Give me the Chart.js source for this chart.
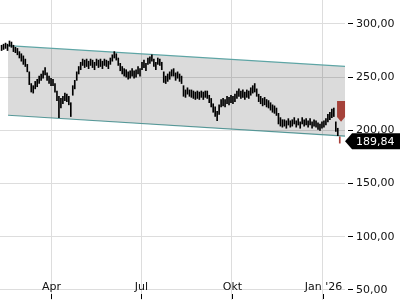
<!DOCTYPE html>
<html>
<head>
<meta charset="utf-8">
<script src="https://cdn.jsdelivr.net/npm/chart.js@4/dist/chart.umd.min.js"></script>
<style>
  html, body { margin: 0; padding: 0; background: #fff; }
</style>
</head>
<body>
<canvas id="kurs" width="400" height="300"></canvas>
<script>
// x values are days counted from 1 Jan 2025
const firstDay = 40;   // 10 Feb 2025
const dayStep = 2;

const highs = [
  280, 281, 282, 281, 284, 283, 280, 278, 277, 274,
  272, 270, 267, 262, 255, 244, 242, 246, 248, 251,
  253, 256, 259, 254, 251, 249, 248, 244, 237, 232,
  230, 232, 235, 234, 232, 226, 242, 247, 255, 260,
  264, 267, 266, 267, 265, 267, 266, 264, 267, 266,
  267, 265, 267, 266, 265, 268, 271, 274, 272, 268,
  263, 260, 258, 257, 255, 256, 258, 256, 257, 260,
  258, 264, 266, 263, 268, 269, 271, 267, 264, 268,
  267, 264, 255, 251, 253, 255, 257, 258, 254, 255,
  253, 251, 242, 238, 240, 238, 238, 237, 236, 237,
  236, 237, 236, 237, 237, 233, 230, 225, 222, 218,
  224, 229, 230, 229, 232, 231, 233, 232, 234, 237,
  239, 237, 238, 236, 238, 237, 240, 242, 244, 239,
  234, 232, 230, 231, 229, 228, 226, 224, 223, 221,
  216, 212, 210, 210, 209, 211, 209, 210, 212, 209,
  211, 208, 212, 210, 211, 209, 211, 208, 210, 209,
  207, 206, 208, 209, 211, 215, 217, 220, 221, 208,
  202, 194
];
const lows = [
  275, 276, 277, 275, 279, 278, 274, 273, 271, 268,
  265, 262, 260, 255, 243, 236, 235, 239, 241, 244,
  247, 249, 252, 247, 244, 242, 242, 236, 228, 212,
  221, 225, 228, 227, 224, 213, 233, 239, 247, 253,
  257, 261, 259, 260, 258, 261, 259, 257, 261, 259,
  260, 258, 261, 260, 258, 262, 265, 268, 266, 261,
  256, 253, 251, 250, 248, 249, 251, 249, 250, 253,
  251, 257, 259, 256, 262, 263, 265, 260, 257, 262,
  261, 257, 245, 244, 246, 248, 251, 251, 247, 249,
  246, 244, 232, 231, 234, 232, 231, 230, 229, 230,
  229, 231, 229, 231, 230, 226, 222, 217, 213, 209,
  215, 222, 223, 222, 225, 224, 226, 225, 227, 230,
  232, 230, 231, 229, 231, 230, 233, 235, 236, 232,
  227, 225, 223, 224, 222, 221, 219, 217, 216, 214,
  206, 204, 203, 204, 202, 205, 203, 204, 206, 203,
  205, 202, 206, 204, 205, 203, 205, 202, 204, 203,
  201, 200, 202, 203, 205, 208, 210, 212, 213, 199,
  195, 188
];

const monthDays = [90, 181, 273, 365];
const monthLabels = ['Apr', 'Jul', 'Okt', "Jan '26"];
const yTicks = [50, 100, 150, 200, 250, 300];

const channelDays = [46.5, 387.3];
const channelTop = [279.6, 260.2];
const channelBottom = [214.2, 194.5];

const arrowDay = 383.3;
const arrowPrices = [227.6, 212.6, 208];   // top, end of body, tip
const lastPrice = 189.84;

const fmt = v => v.toFixed(2).replace('.', ',');

const bars = highs.map((h, i) => ({ x: firstDay + i * dayStep, y: [lows[i], h] }));
const barColors = highs.map((h, i) => i === highs.length - 1 ? '#a8403a' : '#000');

Chart.defaults.font.family = '"DejaVu Sans", sans-serif';
Chart.defaults.font.size = 11;

const overlay = {
  id: 'overlay',
  afterDraw(chart) {
    const { ctx, chartArea, scales: { x, y } } = chart;
    ctx.save();
    ctx.font = '11px "DejaVu Sans"';
    ctx.textBaseline = 'middle';

    // month labels + small ticks
    ctx.textAlign = 'center';
    ctx.fillStyle = '#111';
    ctx.strokeStyle = '#000';
    ctx.lineWidth = 1;
    monthDays.forEach((d, i) => {
      const px = Math.round(x.getPixelForValue(d)) + 0.5;
      ctx.fillText(monthLabels[i], px, 287);
      ctx.beginPath();
      ctx.moveTo(px, 294);
      ctx.lineTo(px, 299);
      ctx.stroke();
    });

    // signal arrow
    const ax = x.getPixelForValue(arrowDay);
    const yTop = y.getPixelForValue(arrowPrices[0]);
    const yBody = y.getPixelForValue(arrowPrices[1]);
    const yTip = y.getPixelForValue(arrowPrices[2]);
    ctx.fillStyle = '#a5423a';
    ctx.beginPath();
    ctx.moveTo(ax - 4, yTop);
    ctx.lineTo(ax + 4, yTop);
    ctx.lineTo(ax + 4, yBody);
    ctx.lineTo(ax, yTip);
    ctx.lineTo(ax - 4, yBody);
    ctx.closePath();
    ctx.fill();

    // last price tag
    const py = y.getPixelForValue(lastPrice);
    const r = chartArea.right;
    ctx.fillStyle = '#000';
    ctx.beginPath();
    ctx.moveTo(r, py);
    ctx.lineTo(r + 7, py - 8);
    ctx.lineTo(400, py - 8);
    ctx.lineTo(400, py + 8);
    ctx.lineTo(r + 7, py + 8);
    ctx.closePath();
    ctx.fill();
    ctx.fillStyle = '#fff';
    ctx.textAlign = 'left';
    ctx.fillText(fmt(lastPrice), r + 11, py + 1);
    ctx.restore();
  }
};

new Chart(document.getElementById('kurs'), {
  data: {
    datasets: [
      {
        type: 'bar',
        data: bars,
        backgroundColor: barColors,
        barThickness: 1,
        grouped: false,
        order: 0
      },
      {
        type: 'line',
        data: channelDays.map((d, i) => ({ x: d, y: channelTop[i] })),
        borderColor: '#5ea5a5',
        borderWidth: 1.2,
        pointRadius: 0,
        fill: '+1',
        backgroundColor: 'rgba(0,0,0,0.14)',
        order: 1
      },
      {
        type: 'line',
        data: channelDays.map((d, i) => ({ x: d, y: channelBottom[i] })),
        borderColor: '#5ea5a5',
        borderWidth: 1.2,
        pointRadius: 0,
        fill: false,
        order: 1
      }
    ]
  },
  options: {
    responsive: false,
    animation: false,
    layout: { padding: 0 },
    plugins: { legend: { display: false }, tooltip: { enabled: false } },
    scales: {
      x: {
        type: 'linear',
        offset: false,
        min: 38.4,
        max: 387.3,
        afterBuildTicks: s => { s.ticks = monthDays.map(v => ({ value: v })); },
        afterFit: s => { s.height = 0; s.paddingLeft = 0; s.paddingRight = 0; },
        grid: { color: '#dddddd', drawTicks: false, offset: false },
        border: { display: false },
        ticks: { display: false }
      },
      y: {
        position: 'right',
        min: 40.6,
        max: 322.5,
        afterBuildTicks: s => { s.ticks = yTicks.map(v => ({ value: v })); },
        afterFit: s => { s.width = 55; s.paddingTop = 0; s.paddingBottom = 0; },
        grid: { color: '#dddddd', tickColor: '#000', tickLength: 8, tickBorderDash: [0, 3, 5, 50] },
        border: { display: false },
        ticks: { color: '#111', padding: 3, callback: v => fmt(v) }
      }
    }
  },
  plugins: [overlay]
});
</script>
</body>
</html>
